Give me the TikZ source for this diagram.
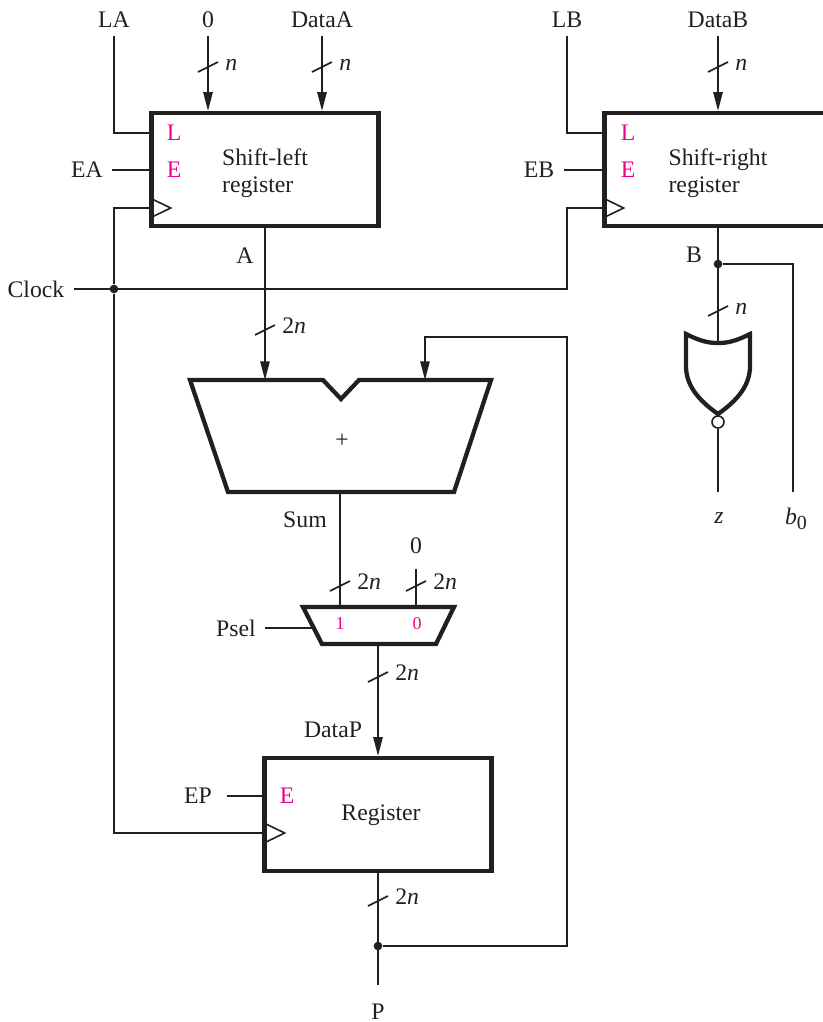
\documentclass[tikz,border=0pt]{standalone}
\usepackage{fontspec}
\setmainfont{Liberation Serif}
\usepackage{tikz}
\usetikzlibrary{arrows.meta,positioning}
\definecolor{inkblk}{HTML}{231F20}
\definecolor{ctrlpink}{HTML}{EC008C}

\begin{document}
\begin{tikzpicture}[
  x=0.75pt,y=-0.75pt,
  every node/.style={font=\fontsize{17.8}{20}\selectfont,text=inkblk},
  regbox/.style={draw=inkblk,line width=3.2pt,minimum width=170.25pt,minimum height=84.75pt},
  regtext/.style={align=left,inner sep=0pt},
  sig/.style={inner sep=7pt},
  port/.style={text=ctrlpink,inner sep=1pt},
  smallport/.style={text=ctrlpink,inner sep=1pt,font=\fontsize{13.5}{15}\selectfont},
  wire/.style={draw=inkblk,line width=1.2pt},
  arr/.style={wire,-{Triangle[length=14pt,width=7pt]}},
  body/.style={draw=inkblk,line width=3.2pt,line join=miter},
  dot/.style={circle,fill=inkblk,inner sep=0pt,minimum size=6.5pt}
]
\useasboundingbox (0,0) rectangle (822,1022);

% registers
\node[regbox] (sl) at (265,169.5) {};
\node[regbox] (sr) at (718,169.5) {};
\node[regbox] (rg) at (378,814.5) {};
\node[regtext] (sltext) at (265,173) {Shift-left\\register};
\node[regtext] (srtext) at (718,173) {Shift-right\\register};
\node[regtext] (rgtext) at (381,815) {Register};

\node[port] (sll) at (174,133) {L};
\node[port] (sle) at (174,170) {E};
\node[port] (srl) at (628,133) {L};
\node[port] (sre) at (628,170) {E};
\node[port] (rge) at (287,796) {E};

% clock triangles
\coordinate (slck) at (152,208);
\coordinate (srck) at (605,208);
\coordinate (rgck) at (266,833);
\foreach \c in {slck,srck,rgck}
  \draw[wire] ([yshift=6.75pt]\c) -- ([xshift=14pt]\c) -- ([yshift=-6.75pt]\c);

% adder and mux
\draw[body] (190,380) -- (323,380) -- (341,399) -- (359,380) -- (491,380) -- (454,492) -- (228,492) -- cycle;
\node (plus) at (342,441) {+};
\coordinate (addl) at (265,380);
\coordinate (addr) at (425,380);
\coordinate (addo) at (340,492);

\draw[body] (303,607) -- (454,607) -- (436,644) -- (322,644) -- cycle;
\node[smallport] (mx1) at (340,624) {1};
\node[smallport] (mx0) at (417,624) {0};
\coordinate (mxt) at (378,607);
\coordinate (mxo) at (378,644);
\coordinate (mxs) at (312,628);

% nor gate
\draw[body] (686,334) .. controls (700,341) and (708,343) .. (718,343)
  .. controls (728,343) and (736,341) .. (750,334) -- (750,366)
  .. controls (750,385) and (738,400) .. (718,414)
  .. controls (698,400) and (686,385) .. (686,366) -- cycle;
\coordinate (orin) at (718,343);
\node[circle,draw=inkblk,line width=1.2pt,fill=white,inner sep=0pt,minimum size=9pt] (orout) at (718,422) {};

% signal names
\node[sig,inner sep=6pt] (la) at (114,20) {LA};
\node[sig,inner sep=6pt] (zeroa) at (208,20) {0};
\node[sig,inner sep=6pt] (dataa) at (322,20) {DataA};
\node[sig,inner sep=6pt] (lb) at (567,20) {LB};
\node[sig,inner sep=6pt] (datab) at (718,20) {DataB};
\node[sig] (ea) at (87,170) {EA};
\node[sig] (eb) at (539,170) {EB};
\node[sig] (clk) at (36,289) {Clock};
\node (aname) at (245,256) {A};
\node (bname) at (694,255) {B};
\node (sumname) at (305,520) {Sum};
\node[sig,inner sep=11pt] (zerop) at (416,546) {0};
\node[sig] (psel) at (236,628) {Psel};
\node (datap) at (333,730) {DataP};
\node[sig,inner sep=11.5pt] (ep) at (198,796) {EP};
\node[inner sep=0pt] (pout) at (378,1012) {P};
\node (zout) at (719,518) {\textit{z}};
\node (bzero) at (796,519) {\textit{b}\raisebox{-0.45ex}{\fontsize{15}{15}\selectfont 0}};

% junctions
\node[dot] (cdot) at (114,289) {};
\node[dot] (bdot) at (718,264) {};
\node[dot] (pdot) at (378,946) {};
\coordinate (srturn) at (567,208);
\coordinate (fbturn) at (567,337);
\coordinate (pend) at (378,985);
\coordinate (bzend) at (793,492);

% connections
\draw[wire] (la) |- (sl.west |- sll);
\draw[arr] (zeroa) -- (zeroa |- sl.north);
\draw[arr] (dataa) -- (dataa |- sl.north);
\draw[wire] (ea) -- (ea -| sl.west);
\draw[wire] (lb) |- (sr.west |- srl);
\draw[arr] (datab) -- (datab |- sr.north);
\draw[wire] (eb) -- (eb -| sr.west);
\draw[wire] (clk) -| (srturn) -- (srck);
\draw[wire] (cdot) |- (slck);
\draw[wire] (cdot) |- (rgck);
\draw[arr] (sl.south) -- (addl);
\draw[wire] (sr.south) -- (orin);
\draw[wire] (bdot) -| (bzend);
\draw[wire] (orout) -- (orout |- bzend);
\draw[wire] (addo) -- (addo |- mxt);
\draw[wire] (zerop) -- (zerop |- mxt);
\draw[wire] (psel) -- (mxs);
\draw[arr] (mxo) -- (rg.north);
\draw[wire] (ep) -- (ep -| rg.west);
\draw[wire] (rg.south) -- (pend);
\draw[arr] (pdot) -| (fbturn) -| (addr);

% bus widths
\foreach \x/\y/\w in {208/67/\textit{n},322/67/\textit{n},718/67/\textit{n},718/311/\textit{n},
    265/330/2\textit{n},340/586/2\textit{n},416/586/2\textit{n},378/677/2\textit{n},378/901/2\textit{n}} {
  \draw[wire] (\x-10,\y+5) -- (\x+10,\y-5);
  \node[anchor=base west,inner sep=0pt] (bus\x-\y) at (\x+17,\y+3) {\w};
}
\end{tikzpicture}
\end{document}
